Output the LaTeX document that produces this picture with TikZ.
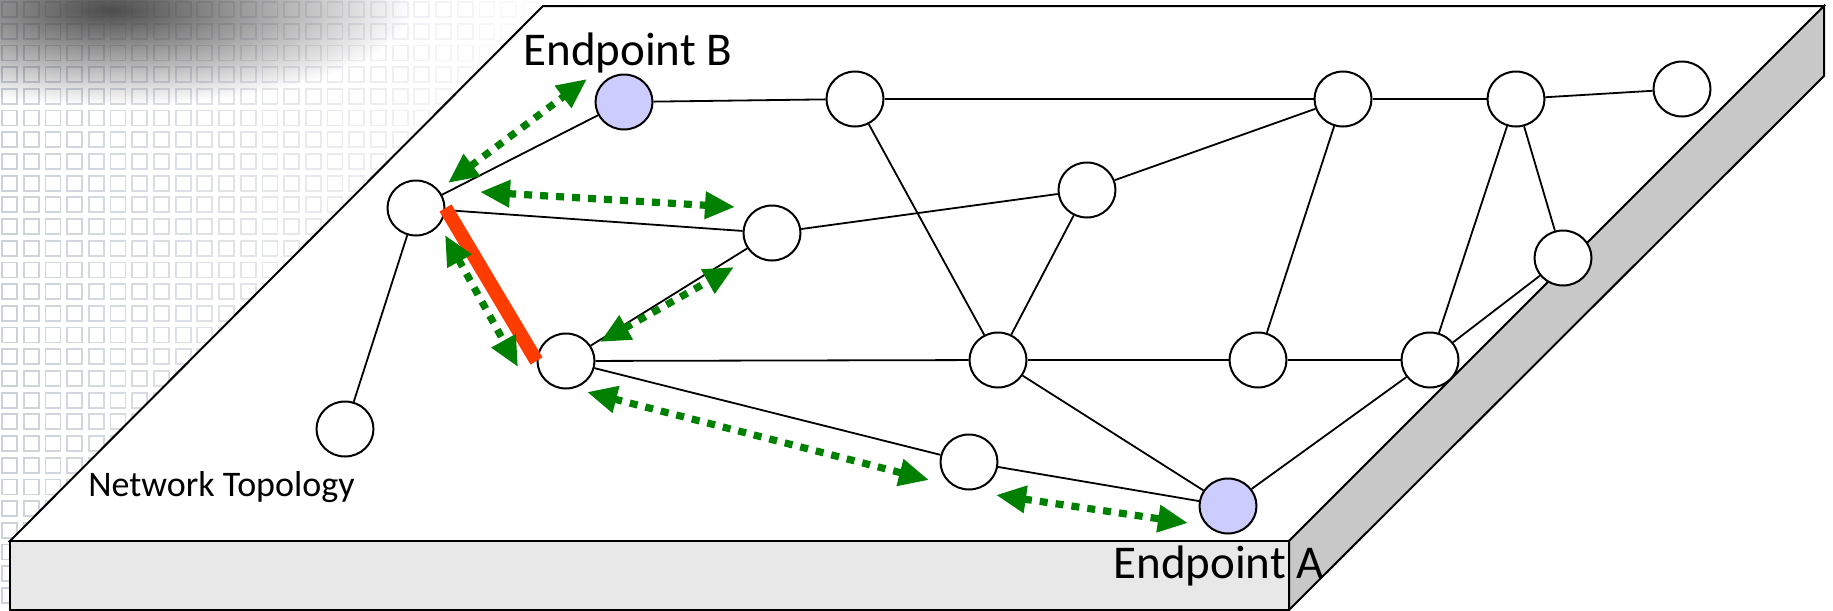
\documentclass[tikz,border=0pt]{standalone}
\usepackage{fontspec}
\setmainfont{Carlito}
\usetikzlibrary{arrows.meta,shapes.geometric,fadings}

\definecolor{pathgreen}{RGB}{0,128,0}
\definecolor{linkred}{RGB}{255,60,0}
\definecolor{endfill}{RGB}{204,204,255}
\definecolor{frontgray}{RGB}{232,232,232}
\definecolor{sidegray}{RGB}{200,200,200}
\definecolor{tilegray}{RGB}{196,201,212}

\tikzfading[name=blobfade, inner color=transparent!0, outer color=transparent!100]

\tikzset{
  slab/.style={draw=black, line width=1pt, line join=miter},
  netnode/.style={ellipse, draw=black, line width=1pt, fill=white,
    minimum width=28.5pt, minimum height=27.5pt, inner sep=0pt},
  endnode/.style={netnode, fill=endfill},
  link/.style={line width=0.9pt},
  redlink/.style={linkred, line width=7pt, line cap=butt},
  probe/.style={pathgreen, line width=3.6pt, dash pattern=on 4pt off 4pt,
    {Triangle[length=15pt,width=13pt]}-{Triangle[length=15pt,width=13pt]}},
  tagtext/.style={anchor=base west, inner sep=0pt, text=black}
}

\begin{document}
\begin{tikzpicture}[x=0.5pt, y=-0.5pt]
\useasboundingbox (0,0) rectangle (1833,611);

% tiled backdrop, fading to the right
\foreach \i in {0,...,26} {
  \pgfmathsetmacro\op{max(0,0.85-\i*0.032)}
  \foreach \j in {0,...,27} {
    \draw[tilegray, opacity=\op, line width=0.9pt]
      (2+\i*21.7, 2+\j*21.7) rectangle ++(15,15);
  }
}
% soft dark patch in the corner
\fill[black!70, path fading=blobfade] (110,10) ellipse (300 and 95);

% the slab
\draw[slab, fill=white] (10,541) -- (543,6) -- (1824,6) -- (1289,541) -- cycle;
\draw[slab, fill=frontgray] (10,541) rectangle (1289,610);
\draw[slab, fill=sidegray] (1289,541) -- (1824,6) -- (1824,76) -- (1289,610) -- cycle;

% nodes
\node[endnode] (eb)  at (624,102) {};
\node[endnode] (ea)  at (1228,506) {};
\node[netnode] (n1)  at (855,99) {};
\node[netnode] (n2)  at (1343,99) {};
\node[netnode] (n3)  at (1516,99) {};
\node[netnode] (n4)  at (1682,89) {};
\node[netnode] (n5)  at (1563,258) {};
\node[netnode] (n6)  at (416,208) {};
\node[netnode] (n7)  at (772,233) {};
\node[netnode] (n8)  at (1087,190) {};
\node[netnode] (n9)  at (566,361) {};
\node[netnode] (n10) at (998,360) {};
\node[netnode] (n11) at (1258,360) {};
\node[netnode] (n12) at (1430,360) {};
\node[netnode] (n13) at (969,462) {};
\node[netnode] (n14) at (345,429) {};

% links
\begin{scope}[link]
\draw (n6) -- (eb);
\draw (eb) -- (n1);
\draw (n1) -- (n2);
\draw (n2) -- (n3);
\draw (n3) -- (n4);
\draw (n1) -- (n10);
\draw (n6) -- (n7);
\draw (n6) -- (n14);
\draw (n7) -- (n8);
\draw (n7) -- (n9);
\draw (n8) -- (n2);
\draw (n8) -- (n10);
\draw (n2) -- (n11);
\draw (n3) -- (n12);
\draw (n3) -- (n5);
\draw (n5) -- (n12);
\draw (n9) -- (n10);
\draw (n10) -- (n11);
\draw (n11) -- (n12);
\draw (n9) -- (n13);
\draw (n13) -- (ea);
\draw (n10) -- (ea);
\draw (n12) -- (ea);
\end{scope}

% failed link
\draw[redlink] (n6.east) -- (n9.west);

% probe paths
\coordinate (p1a) at (448,183);  \coordinate (p1b) at (587,79);
\coordinate (p2a) at (480,192);  \coordinate (p2b) at (735,207);
\coordinate (p3a) at (445,235);  \coordinate (p3b) at (518,367);
\coordinate (p4a) at (600,342);  \coordinate (p4b) at (734,267);
\coordinate (p5a) at (587,392);  \coordinate (p5b) at (929,480);
\coordinate (p6a) at (996,495);  \coordinate (p6b) at (1188,523);
\draw[probe] (p1a) -- (p1b);
\draw[probe] (p2a) -- (p2b);
\draw[probe] (p3a) -- (p3b);
\draw[probe] (p4a) -- (p4b);
\draw[probe] (p5a) -- (p5b);
\draw[probe] (p6a) -- (p6b);

% labels
\node[tagtext, font=\fontsize{23.5pt}{28pt}\selectfont] (tb) at (523,65) {Endpoint B};
\node[tagtext, font=\fontsize{23.5pt}{28pt}\selectfont] (ta) at (1113,578) {Endpoint A};
\node[tagtext, font=\fontsize{18pt}{22pt}\selectfont] (tn) at (88,496) {Network Topology};
\end{tikzpicture}
\end{document}
